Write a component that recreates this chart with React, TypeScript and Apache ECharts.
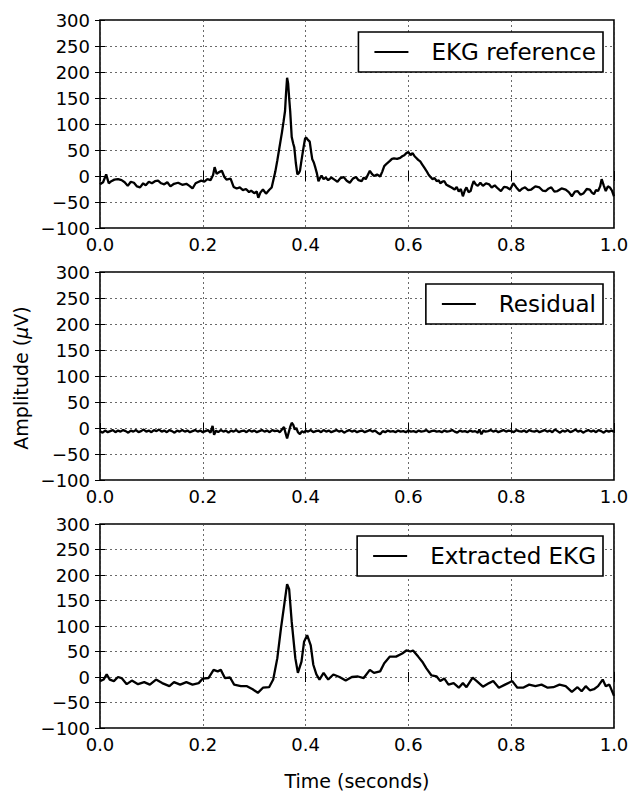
import React, { useEffect, useRef } from "react";
import * as echarts from "echarts";

const FONT = "DejaVu Sans";

const seriesNames = ["EKG reference", "Residual", "Extracted EKG"];
const xTicks = { min: 0, max: 1, interval: 0.2 };
const yTicks = { min: -100, max: 300, interval: 50 };

const referenceSamples: number[][] = [
  [0, -16], [0.006, -12], [0.012, 3], [0.017, -14], [0.022, -10], [0.028, -7], [0.035, -6], [0.042, -8],
  [0.048, -12], [0.054, -19], [0.06, -11], [0.066, -13], [0.072, -20], [0.078, -22], [0.084, -14], [0.089, -18],
  [0.095, -11], [0.101, -14], [0.107, -10], [0.113, -9], [0.119, -14], [0.125, -16], [0.131, -12], [0.137, -20],
  [0.144, -15], [0.152, -13], [0.16, -17], [0.168, -15], [0.174, -19], [0.18, -24], [0.186, -14], [0.19, -12],
  [0.197, -9], [0.203, -11], [0.209, -6], [0.215, -8], [0.22, 2], [0.223, 17], [0.227, 4], [0.231, 7],
  [0.237, 10], [0.242, -2], [0.246, -7], [0.254, -5], [0.26, -21], [0.266, -24], [0.272, -22], [0.278, -27],
  [0.284, -25], [0.29, -31], [0.294, -28], [0.3, -33], [0.305, -30], [0.308, -42], [0.312, -32], [0.317, -26],
  [0.323, -34], [0.329, -27], [0.334, -22], [0.338, -5], [0.341, 8], [0.345, 30], [0.348, 48], [0.351, 66],
  [0.354, 84], [0.357, 104], [0.36, 125], [0.362, 160], [0.364, 189], [0.366, 178], [0.368, 150], [0.37, 125],
  [0.373, 75], [0.376, 62], [0.378, 55], [0.381, 25], [0.384, 3], [0.387, 6], [0.389, 10], [0.392, 30],
  [0.396, 55], [0.399, 72], [0.401, 74], [0.404, 70], [0.408, 66], [0.411, 45], [0.413, 32], [0.416, 26],
  [0.419, 16], [0.422, 5], [0.425, -10], [0.428, -4], [0.431, 1], [0.435, -6], [0.439, -3], [0.444, -8],
  [0.45, -3], [0.456, -7], [0.462, -11], [0.468, -4], [0.474, -2], [0.48, -9], [0.486, -13], [0.492, -5],
  [0.498, -2], [0.503, -8], [0.509, -10], [0.513, -3], [0.517, -6], [0.521, 2], [0.525, 10], [0.529, 4],
  [0.533, 0], [0.539, 3], [0.545, -1], [0.549, 8], [0.553, 19], [0.558, 24], [0.564, 29], [0.568, 33],
  [0.572, 34], [0.578, 33], [0.584, 35], [0.588, 38], [0.592, 40], [0.596, 44], [0.6, 46], [0.604, 40],
  [0.608, 44], [0.612, 38], [0.615, 35], [0.619, 31], [0.623, 28], [0.627, 22], [0.631, 16], [0.635, 10],
  [0.639, 3], [0.643, -2], [0.647, -6], [0.651, -4], [0.655, -10], [0.659, -8], [0.662, -14], [0.666, -11],
  [0.67, -10], [0.674, -17], [0.678, -19], [0.684, -22], [0.69, -26], [0.694, -21], [0.698, -30], [0.702, -25],
  [0.706, -39], [0.71, -27], [0.713, -22], [0.717, -31], [0.721, -29], [0.724, -18], [0.727, -10], [0.731, -16],
  [0.735, -19], [0.74, -13], [0.745, -19], [0.751, -14], [0.757, -16], [0.762, -22], [0.768, -18], [0.774, -24],
  [0.78, -29], [0.786, -21], [0.792, -22], [0.798, -26], [0.804, -14], [0.81, -22], [0.816, -29], [0.822, -24],
  [0.827, -22], [0.833, -27], [0.839, -26], [0.847, -20], [0.855, -22], [0.861, -28], [0.867, -29], [0.873, -24],
  [0.878, -22], [0.884, -30], [0.89, -29], [0.898, -24], [0.906, -26], [0.912, -31], [0.918, -39], [0.924, -30],
  [0.929, -29], [0.935, -36], [0.941, -33], [0.947, -25], [0.953, -26], [0.957, -32], [0.961, -35], [0.965, -27],
  [0.969, -29], [0.973, -20], [0.976, -6], [0.98, -18], [0.984, -29], [0.988, -20], [0.992, -22], [0.996, -28],
  [1.0, -39],
];

const residualSamples: number[][] = [
  [0, -6], [0.005, -9], [0.01, -5], [0.015, -8], [0.02, -6], [0.025, -4], [0.03, -8], [0.035, -5],
  [0.04, -7], [0.045, -4], [0.05, -6], [0.055, -9], [0.06, -5], [0.065, -7], [0.07, -4], [0.075, -8],
  [0.08, -6], [0.085, -3], [0.09, -7], [0.095, -5], [0.1, -8], [0.105, -4], [0.11, -6], [0.115, -3],
  [0.12, -7], [0.125, -5], [0.13, -8], [0.135, -4], [0.14, -6], [0.145, -9], [0.15, -5], [0.155, -7],
  [0.16, -4], [0.165, -7], [0.17, -5], [0.175, -8], [0.18, -6], [0.185, -4], [0.19, -7], [0.195, -5],
  [0.2, -8], [0.205, -6], [0.21, -4], [0.215, -9], [0.219, 4], [0.222, -13], [0.226, -5], [0.23, -8],
  [0.235, -4], [0.24, -7], [0.245, -5], [0.25, -9], [0.255, -5], [0.26, -7], [0.265, -4], [0.27, -8],
  [0.275, -6], [0.28, -5], [0.285, -8], [0.29, -4], [0.295, -7], [0.3, -5], [0.305, -8], [0.31, -6],
  [0.315, -4], [0.32, -7], [0.325, -5], [0.33, -8], [0.335, -4], [0.34, -6], [0.345, -5], [0.35, -8],
  [0.354, -3], [0.358, 2], [0.361, -10], [0.364, -20], [0.367, -9], [0.37, 2], [0.373, 10], [0.376, 6],
  [0.379, -3], [0.382, 0], [0.385, -8], [0.389, -12], [0.393, -6], [0.397, -9], [0.4, -5], [0.405, -7],
  [0.41, -4], [0.415, -8], [0.42, -6], [0.425, -5], [0.43, -8], [0.435, -4], [0.44, -7], [0.445, -5],
  [0.45, -8], [0.455, -6], [0.46, -4], [0.465, -7], [0.47, -5], [0.475, -9], [0.48, -6], [0.485, -4],
  [0.49, -7], [0.495, -5], [0.5, -8], [0.505, -6], [0.51, -5], [0.515, -8], [0.52, -6], [0.525, -4],
  [0.53, -7], [0.535, -5], [0.54, -9], [0.545, -12], [0.55, -6], [0.555, -8], [0.56, -5], [0.565, -7],
  [0.57, -6], [0.575, -8], [0.58, -5], [0.585, -7], [0.59, -6], [0.595, -8], [0.6, -5], [0.605, -7],
  [0.61, -6], [0.615, -8], [0.62, -5], [0.625, -7], [0.63, -6], [0.635, -4], [0.64, -8], [0.645, -6],
  [0.65, -5], [0.655, -7], [0.66, -6], [0.665, -8], [0.67, -5], [0.675, -7], [0.68, -6], [0.685, -4],
  [0.69, -7], [0.695, -9], [0.7, -5], [0.705, -7], [0.71, -6], [0.715, -8], [0.72, -5], [0.725, -7],
  [0.73, -6], [0.735, -9], [0.738, -3], [0.742, -12], [0.746, -5], [0.75, -7], [0.755, -6], [0.76, -4],
  [0.765, -7], [0.77, -5], [0.775, -8], [0.78, -6], [0.785, -4], [0.79, -7], [0.795, -5], [0.8, -6],
  [0.805, -8], [0.81, -4], [0.815, -6], [0.82, -7], [0.825, -5], [0.83, -8], [0.835, -4], [0.84, -6],
  [0.845, -7], [0.85, -5], [0.855, -8], [0.86, -6], [0.865, -4], [0.87, -7], [0.875, -5], [0.88, -8],
  [0.885, -3], [0.89, -6], [0.895, -9], [0.9, -5], [0.905, -7], [0.91, -4], [0.915, -8], [0.92, -6],
  [0.925, -3], [0.93, -7], [0.935, -5], [0.94, -9], [0.945, -6], [0.95, -4], [0.955, -7], [0.96, -5],
  [0.965, -8], [0.97, -4], [0.975, -6], [0.98, -9], [0.985, -5], [0.99, -7], [0.995, -5], [1.0, -7],
];

const extractedSamples: number[][] = [
  [0, -8], [0.007, -5], [0.013, 5], [0.019, -5], [0.027, -8], [0.035, 0], [0.042, -2], [0.052, -14],
  [0.062, -7], [0.074, -14], [0.086, -10], [0.097, -15], [0.109, -5], [0.121, -12], [0.135, -18], [0.144, -10],
  [0.156, -15], [0.168, -10], [0.18, -15], [0.192, -12], [0.2, -3], [0.211, -2], [0.221, 14], [0.229, 11],
  [0.235, 14], [0.243, -2], [0.253, -1], [0.261, -15], [0.274, -18], [0.286, -18], [0.297, -24], [0.307, -31],
  [0.317, -21], [0.329, -20], [0.337, -5], [0.345, 37], [0.352, 95], [0.359, 146], [0.364, 182], [0.368, 172],
  [0.373, 108], [0.38, 37], [0.385, 8], [0.392, 30], [0.397, 69], [0.403, 82], [0.41, 62], [0.415, 24],
  [0.421, 5], [0.427, -5], [0.435, 8], [0.444, -5], [0.454, 5], [0.466, 0], [0.478, -7], [0.49, 0],
  [0.502, 1], [0.513, -2], [0.525, 14], [0.533, 8], [0.545, 11], [0.553, 27], [0.564, 40], [0.576, 40],
  [0.588, 46], [0.596, 52], [0.604, 50], [0.609, 52], [0.619, 40], [0.627, 30], [0.635, 17], [0.645, 3],
  [0.655, 1], [0.662, -8], [0.67, -3], [0.678, -15], [0.688, -12], [0.698, -21], [0.706, -12], [0.713, -20],
  [0.725, -1], [0.733, -8], [0.745, -19], [0.757, -12], [0.765, -8], [0.776, -21], [0.788, -15], [0.802, -8],
  [0.812, -21], [0.823, -21], [0.835, -15], [0.847, -18], [0.859, -15], [0.871, -21], [0.882, -20], [0.894, -15],
  [0.906, -18], [0.918, -29], [0.929, -20], [0.937, -28], [0.945, -18], [0.953, -26], [0.961, -24], [0.969, -18],
  [0.978, -5], [0.984, -18], [0.991, -15], [1.0, -37],
];

const allSamples = [referenceSamples, residualSamples, extractedSamples];

const gridTops = [20, 272, 524];
const gridHeight = 208;
const gridLeft = 100;
const gridWidth = 514;

const fmtY = (v: number) => (v < 0 ? "\u2212" + Math.abs(v) : String(v));
const fmtX = (v: number) => v.toFixed(1);

export default function App() {
  const ref = useRef<HTMLDivElement>(null);

  useEffect(() => {
    if (!ref.current) return;
    const chart = echarts.init(ref.current, null, { renderer: "svg" });

    const grids: any[] = [];
    const xAxes: any[] = [];
    const yAxes: any[] = [];
    const series: any[] = [];
    const legends: any[] = [];

    const tickStyle = { show: true, inside: true, length: 5, lineStyle: { color: "#000", width: 1 } };
    const split = { show: true, lineStyle: { color: "#444", width: 0.8, type: [2, 3] } };

    allSamples.forEach((samples, i) => {
      grids.push({
        left: gridLeft,
        top: gridTops[i],
        width: gridWidth,
        height: gridHeight,
        show: true,
        borderColor: "#000",
        borderWidth: 1.6,
        backgroundColor: "#fff",
        containLabel: false,
      });
      const isLast = i === allSamples.length - 1;
      xAxes.push({
        type: "value",
        gridIndex: i,
        position: "bottom",
        ...xTicks,
        axisLine: { show: false },
        axisTick: tickStyle,
        splitLine: split,
        axisLabel: {
          formatter: fmtX,
          fontSize: 18,
          fontFamily: FONT,
          color: "#000",
          margin: 7,
          showMinLabel: true,
          showMaxLabel: true,
        },
        name: isLast ? "Time (seconds)" : "",
        nameLocation: "middle",
        nameGap: 43,
        nameTextStyle: { fontSize: 19, fontFamily: FONT, color: "#000" },
      });
      xAxes.push({
        type: "value",
        gridIndex: i,
        position: "top",
        ...xTicks,
        axisLine: { show: false },
        axisTick: tickStyle,
        splitLine: { show: false },
        axisLabel: { show: false },
      });
      yAxes.push({
        type: "value",
        gridIndex: i,
        position: "left",
        ...yTicks,
        axisLine: { show: false },
        axisTick: tickStyle,
        splitLine: split,
        axisLabel: {
          formatter: fmtY,
          fontSize: 18,
          fontFamily: FONT,
          color: "#000",
          margin: 10,
          showMinLabel: true,
          showMaxLabel: true,
        },
      });
      yAxes.push({
        type: "value",
        gridIndex: i,
        position: "right",
        ...yTicks,
        axisLine: { show: false },
        axisTick: tickStyle,
        splitLine: { show: false },
        axisLabel: { show: false },
      });
      series.push({
        name: seriesNames[i],
        type: "line",
        xAxisIndex: i * 2,
        yAxisIndex: i * 2,
        data: samples,
        showSymbol: false,
        symbol: "none",
        lineStyle: { color: "#000", width: 2.3 },
        itemStyle: { color: "#000" },
        z: 3,
      });
      legends.push({
        data: [seriesNames[i]],
        right: 31,
        top: gridTops[i] + 12,
        orient: "horizontal",
        icon: "rect",
        itemWidth: 34,
        itemHeight: 2,
        backgroundColor: "#fff",
        borderColor: "#000",
        borderWidth: 1.6,
        borderRadius: 0,
        padding: [7, 7, 7, 16],
        selectedMode: false,
        textStyle: {
          fontSize: 23,
          fontFamily: FONT,
          color: "#000",
          lineHeight: 26,
          padding: [0, 0, 0, 18],
        },
        itemStyle: { color: "#000" },
        z: 5,
      });
    });

    chart.setOption({
      animation: false,
      backgroundColor: "#fff",
      grid: grids,
      xAxis: xAxes,
      yAxis: yAxes,
      series,
      legend: legends,
      graphic: [
        {
          type: "text",
          x: 21,
          y: 378,
          rotation: Math.PI / 2,
          style: {
            text: "Amplitude ({i|\u03bc}V)",
            fontSize: 19,
            fontFamily: FONT,
            fill: "#000",
            align: "center",
            verticalAlign: "middle",
            rich: {
              i: { fontSize: 19, fontFamily: FONT, fontStyle: "italic", fill: "#000" },
            },
          },
        },
      ],
    });

    return () => chart.dispose();
  }, []);

  return (
    <div
      ref={ref}
      style={{ position: "absolute", left: 0, top: 0, width: 634, height: 791, background: "#fff" }}
    />
  );
}
